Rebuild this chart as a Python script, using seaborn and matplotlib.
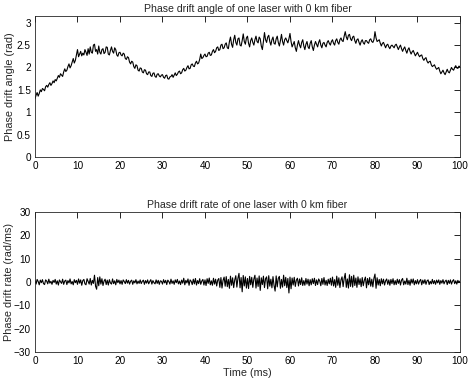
# Phase drift of one laser, 0 km fiber

import numpy as np
import pandas as pd
import seaborn as sns
import matplotlib
matplotlib.use("Agg")
import matplotlib.pyplot as plt

time_ms = np.linspace(0, 100, 401)

drift_angle = [
    1.30, 1.38, 1.44, 1.36, 1.42, 1.50, 1.46, 1.53, 1.51, 1.48, 1.57, 1.60, 1.56, 1.62, 1.66, 1.60, 1.64, 1.70, 1.66, 1.73,
    1.70, 1.76, 1.82, 1.78, 1.86, 1.83, 1.80, 1.90, 1.97, 1.91, 1.94, 2.02, 2.08, 1.99, 2.04, 2.12, 2.20, 2.10, 2.16, 2.28,
    2.40, 2.24, 2.30, 2.36, 2.26, 2.32, 2.28, 2.40, 2.34, 2.27, 2.42, 2.30, 2.46, 2.34, 2.32, 2.50, 2.52, 2.36, 2.40, 2.30,
    2.48, 2.34, 2.30, 2.40, 2.42, 2.31, 2.34, 2.46, 2.45, 2.30, 2.28, 2.38, 2.46, 2.36, 2.32, 2.44, 2.40, 2.28, 2.25, 2.33,
    2.34, 2.28, 2.26, 2.32, 2.30, 2.20, 2.18, 2.24, 2.22, 2.12, 2.08, 2.14, 2.12, 2.02, 1.98, 2.06, 2.04, 1.94, 1.92, 1.99,
    1.98, 1.90, 1.88, 1.95, 1.94, 1.86, 1.84, 1.90, 1.90, 1.82, 1.80, 1.87, 1.88, 1.80, 1.78, 1.85, 1.86, 1.81, 1.79, 1.83,
    1.84, 1.78, 1.76, 1.82, 1.83, 1.75, 1.74, 1.79, 1.80, 1.84, 1.78, 1.83, 1.88, 1.82, 1.85, 1.90, 1.92, 1.86, 1.88, 1.95,
    1.98, 1.92, 1.94, 2.00, 2.04, 1.97, 1.98, 2.06, 2.08, 2.03, 2.02, 2.10, 2.14, 2.08, 2.10, 2.18, 2.30, 2.20, 2.22, 2.27,
    2.30, 2.24, 2.25, 2.32, 2.34, 2.27, 2.28, 2.36, 2.40, 2.33, 2.36, 2.44, 2.46, 2.38, 2.40, 2.50, 2.52, 2.42, 2.44, 2.52,
    2.55, 2.44, 2.42, 2.58, 2.68, 2.52, 2.45, 2.62, 2.72, 2.56, 2.50, 2.64, 2.66, 2.50, 2.48, 2.60, 2.75, 2.58, 2.52, 2.66,
    2.70, 2.54, 2.46, 2.60, 2.66, 2.56, 2.50, 2.62, 2.70, 2.58, 2.55, 2.68, 2.64, 2.48, 2.40, 2.58, 2.78, 2.62, 2.56, 2.68,
    2.72, 2.58, 2.50, 2.62, 2.68, 2.54, 2.52, 2.64, 2.70, 2.56, 2.48, 2.60, 2.74, 2.58, 2.50, 2.62, 2.66, 2.60, 2.55, 2.64,
    2.76, 2.58, 2.46, 2.52, 2.58, 2.44, 2.36, 2.50, 2.60, 2.50, 2.44, 2.56, 2.62, 2.48, 2.40, 2.52, 2.58, 2.46, 2.42, 2.54,
    2.60, 2.46, 2.38, 2.50, 2.58, 2.52, 2.46, 2.56, 2.62, 2.50, 2.44, 2.54, 2.56, 2.50, 2.46, 2.56, 2.60, 2.54, 2.50, 2.58,
    2.62, 2.54, 2.50, 2.60, 2.64, 2.56, 2.52, 2.62, 2.66, 2.60, 2.58, 2.70, 2.80, 2.68, 2.62, 2.72, 2.74, 2.64, 2.60, 2.68,
    2.70, 2.60, 2.54, 2.62, 2.64, 2.56, 2.50, 2.58, 2.62, 2.55, 2.52, 2.60, 2.60, 2.56, 2.54, 2.62, 2.64, 2.58, 2.56, 2.62,
    2.80, 2.66, 2.58, 2.60, 2.62, 2.54, 2.48, 2.54, 2.56, 2.50, 2.44, 2.50, 2.52, 2.46, 2.42, 2.48, 2.50, 2.47, 2.44, 2.50,
    2.52, 2.46, 2.40, 2.46, 2.50, 2.42, 2.36, 2.42, 2.46, 2.38, 2.32, 2.40, 2.44, 2.36, 2.30, 2.35, 2.38, 2.32, 2.26, 2.30,
    2.34, 2.28, 2.24, 2.27, 2.28, 2.20, 2.16, 2.20, 2.22, 2.14, 2.10, 2.13, 2.14, 2.06, 2.02, 2.04, 2.06, 2.00, 1.96, 1.98,
    2.00, 1.92, 1.86, 1.90, 1.94, 1.88, 1.84, 1.90, 1.96, 1.90, 1.88, 1.94, 2.00, 1.96, 1.94, 2.00, 2.04, 1.99, 1.98, 2.03,
    2.02,
]

drift_rate = [
    0.6, -0.9, 1.1, 0.2, -1.2, 0.8, -0.3, 1.0, -0.7, -1.1, 0.9, 0.4, -0.8, 1.2, -0.5, 0.3, -1.0, 0.7, -0.2, 1.1,
    -0.9, 0.5, -1.3, 0.9, 0.1, -0.6, 1.2, -1.0, 0.4, 0.8, -1.1, 0.6, -0.4, 1.3, -0.8, 0.2, -1.2, 1.0, -0.3, 0.7,
    -1.0, 1.3, -0.5, 0.9, -1.4, 0.6, 1.1, -0.8, -1.2, 1.4, 0.3, -0.9, 1.5, -1.3, 0.7, -0.6, 2.9, -1.8, -3.1, 1.9,
    -1.6, 2.2, -0.9, 1.4, -1.5, 0.4, 1.2, -1.1, 0.8, -1.3, 1.0, -0.4, -0.9, 1.3, -0.7, 0.5, -1.2, 1.1, -0.3, 0.8,
    -0.8, 0.6, -1.0, 0.9, 0.2, -0.7, 1.0, -0.5, 0.7, -0.9, 0.3, 0.8, -1.0, 0.5, -0.4, 1.0, -0.8, 0.4, -0.6, 0.9,
    -0.7, 0.3, 0.8, -1.0, 0.6, -0.5, 0.9, -0.8, 0.2, 1.0, -0.9, 0.6, -0.3, -0.8, 0.9, -0.6, 0.7, -1.0, 0.5, 0.3,
    -0.9, 1.0, -0.4, 0.7, -1.1, 0.8, 0.2, -0.9, 1.2, -0.6, 0.5, -1.0, 0.9, -0.3, 1.1, -0.8, 0.4, -1.1, 0.8, -0.5,
    1.6, -1.2, 0.7, -0.4, 1.3, -1.4, 0.9, 0.3, -1.1, 1.2, -0.8, 1.5, -1.3, 0.6, -0.7, 1.4, -1.0, 0.4, 1.1, -1.3,
    0.9, -1.5, 1.4, -0.6, 1.7, -1.2, 0.5, -1.4, 1.6, -0.9, 1.2, -1.7, 0.8, 1.5, -2.3, 1.9, -2.6, 0.7, 2.1, -1.8,
    2.3, -2.0, 1.1, -2.7, 2.5, -1.4, 1.8, -2.4, 0.9, 2.7, -2.2, 1.6, 3.7, -2.5, 1.9, -4.2, 2.8, -1.7, 2.2, -2.6,
    1.5, -2.8, 2.4, -1.2, 2.0, -2.3, 1.3, 2.9, -2.6, 1.7, -1.9, 2.6, -3.6, 1.8, -1.1, 2.5, -2.4, 1.4, 2.2, -2.9,
    2.7, -1.8, 1.2, -2.5, 2.3, -1.5, -3.9, 2.6, -2.1, 1.6, 2.4, -2.7, 1.1, -2.2, 2.9, -1.6, 2.0, -2.4, 1.5, -4.7,
    2.1, -2.9, 1.7, -1.3, 2.0, -1.9, 0.8, 1.6, -1.7, 1.3, -1.1, 1.8, -1.5, 0.6, -1.4, 1.5, -0.9, 1.2, -1.6, 1.0,
    -1.2, 1.4, -0.7, 1.6, -1.5, 0.9, -1.1, 1.3, 0.4, -1.6, 1.5, -1.0, 1.9, -1.3, 0.7, -1.5, 1.2, -0.8, 1.6, -1.4,
    2.1, -1.7, 1.0, -2.3, 2.5, -1.4, 1.8, -2.4, 0.9, 2.2, -2.0, 1.5, 3.7, -2.3, 1.3, -2.6, 3.1, -1.9, 2.4, -2.2,
    2.9, -1.5, 1.7, -2.3, 2.2, -1.1, 1.4, -2.0, 1.9, -1.6, 0.8, 2.1, -2.5, 1.5, -1.2, 1.9, -1.8, 1.2, -2.1, 1.6,
    3.4, -2.7, 1.8, -1.3, 1.1, -1.6, 1.4, -0.8, 1.2, -1.3, 0.5, 1.3, -1.0, 0.9, -1.4, 1.1, -0.7, 1.4, -1.2, 0.6,
    -1.1, 1.2, -0.6, 1.0, -1.3, 0.8, 1.5, -1.2, 0.4, -0.9, 1.6, -1.1, 0.7, -1.4, 1.2, -0.5, 1.3, -1.2, 0.6, -0.8,
    1.0, -0.9, 0.4, 1.1, -1.2, 0.8, -0.6, 1.0, -1.0, 0.5, 0.9, -1.1, 0.3, -0.8, 1.1, -0.7, 0.6, -1.0, 0.8, -0.4,
    0.9, -1.0, 0.6, -0.5, 1.0, -0.8, 0.3, 0.8, -1.1, 0.7, -0.6, 0.9, -0.9, 0.4, 1.0, -0.7, 0.5, -0.9, 0.7, -0.3,
    0.4,
]

x_ticks = list(range(0, 101, 10))
angle_ticks = [0, 0.5, 1, 1.5, 2, 2.5, 3]
rate_ticks = [-30, -20, -10, 0, 10, 20, 30]


def style_axes(ax):
    ax.tick_params(direction="in", length=4, width=0.6, top=True, right=True,
                   labelsize=7.2, pad=3, colors="black")
    for sp in ax.spines.values():
        sp.set_visible(True)
        sp.set_color("#262626")
        sp.set_linewidth(0.6)
    ax.set_xlim(0, 100)
    ax.set_xticks(x_ticks)


def make_plot():
    sns.set_theme(style="white")
    plt.rcParams['font.family'] = ['Liberation Sans', 'DejaVu Sans']
    fig = plt.figure(figsize=(4.71, 3.85), dpi=100)
    ax1 = fig.add_axes([0.0743, 0.5922, 0.9023, 0.3662])
    ax2 = fig.add_axes([0.0743, 0.0857, 0.9023, 0.3637])

    df = pd.DataFrame({"t": time_ms, "angle": drift_angle, "rate": drift_rate})

    sns.lineplot(ax=ax1, data=df, x="t", y="angle", color="black", linewidth=0.8)
    style_axes(ax1)
    ax1.set_ylim(0, 3.15)
    ax1.set_yticks(angle_ticks)
    ax1.set_yticklabels(["0", "0.5", "1", "1.5", "2", "2.5", "3"])
    ax1.set_xlabel("")
    ax1.set_ylabel("Phase drift angle (rad)", fontsize=7.8)
    ax1.yaxis.set_label_coords(-0.047, 0.5)
    ax1.set_title("Phase drift angle of one laser with 0 km fiber", fontsize=7.6, pad=3)

    sns.lineplot(ax=ax2, data=df, x="t", y="rate", color="black", linewidth=0.8)
    style_axes(ax2)
    ax2.set_ylim(-30, 30)
    ax2.set_yticks(rate_ticks)
    ax2.set_xlabel("Time (ms)", fontsize=7.8, labelpad=1)
    ax2.set_ylabel("Phase drift rate (rad/ms)", fontsize=7.8)
    ax2.yaxis.set_label_coords(-0.05, 0.5)
    ax2.set_title("Phase drift rate of one laser with 0 km fiber", fontsize=7.6, pad=3)

    fig.savefig("out.png", dpi=100, facecolor="white")


if __name__ == '__main__':
    make_plot()
